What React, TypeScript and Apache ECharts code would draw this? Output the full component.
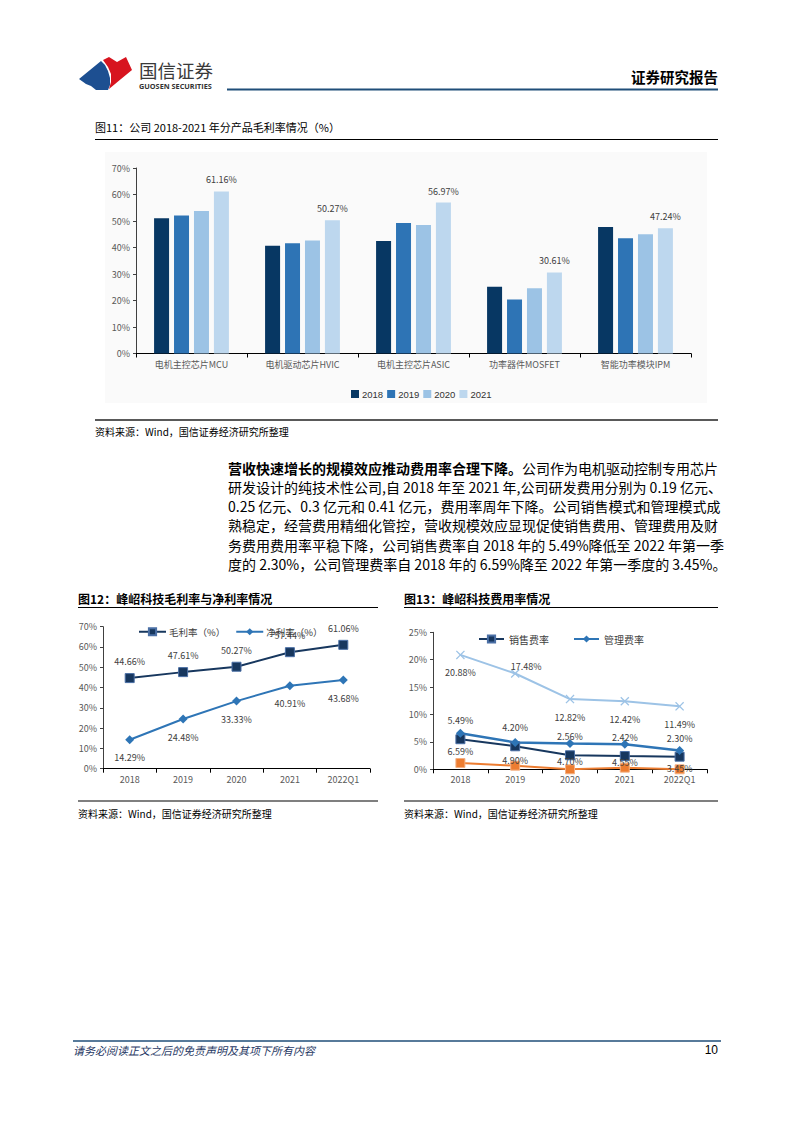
import React, { useEffect, useRef } from 'react';
import * as echarts from 'echarts';

// ---------- Data ----------
const products = ['电机主控芯片MCU', '电机驱动芯片HVIC', '电机主控芯片ASIC', '功率器件MOSFET', '智能功率模块IPM'];
const barYears = ['2018', '2019', '2020', '2021'];
const margin2018 = [51.0, 40.7, 42.5, 25.2, 47.7];
const margin2019 = [52.1, 41.6, 49.2, 20.4, 43.5];
const margin2020 = [53.8, 42.6, 48.5, 24.6, 45.0];
const margin2021 = [61.16, 50.27, 56.97, 30.61, 47.24];

const periods = ['2018', '2019', '2020', '2021', '2022Q1'];
const grossMargin = [44.66, 47.61, 50.27, 57.44, 61.06];
const netMargin = [14.29, 24.48, 33.33, 40.91, 43.68];

const salesRate = [5.49, 4.2, 2.56, 2.42, 2.3];
const adminRate = [6.59, 4.9, 4.7, 4.55, 3.45];
const rdRate = [20.88, 17.48, 12.82, 12.42, 11.49];
const finRate = [1.15, 0.66, 0.0, 0.3, 0.0];
const rdLabelUp = [false, true, false, false, false];

const pctTicks1 = { min: 0, max: 70, interval: 10 };
const pctTicks3 = { min: 0, max: 25, interval: 5 };

const bodyLines = [
  '研发设计的纯技术性公司,自 2018 年至 2021 年,公司研发费用分别为 0.19 亿元、',
  '0.25 亿元、0.3 亿元和 0.41 亿元，费用率周年下降。公司销售模式和管理模式成',
  '熟稳定，经营费用精细化管控，营收规模效应显现促使销售费用、管理费用及财',
  '务费用费用率平稳下降，公司销售费率自 2018 年的 5.49%降低至 2022 年第一季',
  '度的 2.30%，公司管理费率自 2018 年的 6.59%降至 2022 年第一季度的 3.45%。',
];

const FONT = '"Noto Sans CJK SC", "Noto Sans", sans-serif';
const LATIN = '"Liberation Sans", Arial, sans-serif';
const fmt = (v: number) => v.toFixed(2) + '%';

const txt = (text: string, x: number, y: number, size: number, extra: any = {}) => ({
  type: 'text',
  x,
  y,
  silent: true,
  style: {
    text,
    fontSize: size,
    fontFamily: FONT,
    fill: '#000',
    align: 'left',
    verticalAlign: 'middle',
    ...extra,
  },
});
const hline = (x1: number, x2: number, y: number, stroke: string, w: number) => ({
  type: 'line',
  silent: true,
  shape: { x1, y1: y, x2, y2: y },
  style: { stroke, lineWidth: w },
});

function buildOption(): any {
  const axisLabel = { color: '#595959', fontSize: 9, fontFamily: FONT };
  const catAxis = (gridIndex: number, data: string[]) => ({
    type: 'category',
    gridIndex,
    data,
    axisLine: { show: true, lineStyle: { color: '#000', width: 1 } },
    axisTick: { show: true, length: 4, lineStyle: { color: '#000' } },
    axisLabel: { ...axisLabel, margin: 6 },
    splitLine: { show: false },
  });
  const valAxis = (gridIndex: number, ticks: any) => ({
    type: 'value',
    gridIndex,
    ...ticks,
    axisLine: { show: true, lineStyle: { color: '#404040', width: 1 } },
    axisTick: { show: true, length: 3, lineStyle: { color: '#404040' } },
    axisLabel: { ...axisLabel, margin: 6, formatter: '{value}%' },
    splitLine: { show: false },
  });

  const barColors = ['#073763', '#2e74b5', '#9cc3e5', '#bdd7ee'];
  const barData = [margin2018, margin2019, margin2020, margin2021];
  const barSeries = barYears.map((y, i) => ({
    name: y,
    type: 'bar',
    xAxisIndex: 0,
    yAxisIndex: 0,
    data: barData[i],
    barWidth: 15,
    barGap: '33%',
    itemStyle: { color: barColors[i] },
    label:
      i === 3
        ? {
            show: true,
            position: 'top',
            distance: 7,
            fontSize: 9,
            color: '#404040',
            fontFamily: FONT,
            formatter: (p: any) => fmt(p.value),
          }
        : { show: false },
  }));

  const lbl = (position: string, distance = 9) => ({
    show: true,
    position,
    distance,
    fontSize: 9,
    color: '#404040',
    fontFamily: FONT,
    formatter: (p: any) => fmt(typeof p.value === 'number' ? p.value : p.data.value),
  });

  const navy = '#17375e';
  const mid = '#2e75b6';
  const light = '#9dc3e6';
  const orange = '#ed7d31';

  const series2 = [
    {
      name: '毛利率（%）',
      type: 'line',
      xAxisIndex: 1,
      yAxisIndex: 1,
      data: grossMargin,
      symbol: 'rect',
      symbolSize: 9,
      lineStyle: { color: navy, width: 2 },
      itemStyle: { color: navy, borderColor: '#4a6fa5', borderWidth: 1 },
      label: lbl('top', 7),
    },
    {
      name: '净利率（%）',
      type: 'line',
      xAxisIndex: 1,
      yAxisIndex: 1,
      data: netMargin,
      symbol: 'diamond',
      symbolSize: 9,
      lineStyle: { color: mid, width: 2 },
      itemStyle: { color: mid },
      label: lbl('bottom'),
    },
  ];

  const xSymbol = 'path://M1,0 L5,4 L9,0 L10,1 L6,5 L10,9 L9,10 L5,6 L1,10 L0,9 L4,5 L0,1 Z';
  const series3 = [
    {
      name: '研发费率',
      type: 'line',
      xAxisIndex: 2,
      yAxisIndex: 2,
      data: rdRate.map((v, i) => ({
        value: v,
        label: rdLabelUp[i]
          ? { position: 'top', distance: 0, offset: [11, 2] }
          : { position: 'bottom', distance: 9 },
      })),
      symbol: xSymbol,
      symbolSize: 9,
      lineStyle: { color: light, width: 2 },
      itemStyle: { color: light },
      label: lbl('bottom'),
    },
    {
      name: '财务费率',
      type: 'line',
      xAxisIndex: 2,
      yAxisIndex: 2,
      data: finRate,
      symbol: 'rect',
      symbolSize: 9,
      lineStyle: { color: orange, width: 2 },
      itemStyle: { color: orange, borderColor: '#f4b183', borderWidth: 1 },
      label: { show: false },
    },
    {
      name: '销售费率',
      type: 'line',
      xAxisIndex: 2,
      yAxisIndex: 2,
      data: salesRate,
      symbol: 'rect',
      symbolSize: 9,
      lineStyle: { color: navy, width: 2 },
      itemStyle: { color: navy, borderColor: '#4a6fa5', borderWidth: 1 },
      label: lbl('top'),
    },
    {
      name: '管理费率',
      type: 'line',
      xAxisIndex: 2,
      yAxisIndex: 2,
      data: adminRate,
      symbol: 'diamond',
      symbolSize: 9,
      lineStyle: { color: mid, width: 2.5 },
      itemStyle: { color: mid },
      label: lbl('bottom'),
    },
  ];

  // ---- static page graphics ----
  const graphics: any[] = [];
  // logo
  graphics.push({
    type: 'polygon',
    silent: true,
    shape: {
      points: [
        [79, 79], [101, 61], [105, 65], [108, 71], [110, 78], [110, 85], [108, 90], [96, 90], [91, 86], [86, 84],
      ],
    },
    style: { fill: '#1d4f91' },
  });
  graphics.push({
    type: 'polygon',
    silent: true,
    shape: {
      points: [
        [103, 60], [109, 57], [117, 62], [126, 57], [132, 70], [121, 79], [109, 89], [111, 82], [111, 74], [108, 67],
      ],
    },
    style: { fill: '#d7141f' },
  });
  graphics.push(txt('国信证券', 139, 70, 18.5, { fill: '#3a3a3a' }));
  graphics.push(txt('GUOSEN SECURITIES', 139, 86, 7.3, { fill: '#333', fontWeight: 'bold', fontFamily: '"Open Sans", "Noto Sans", sans-serif' }));
  graphics.push(txt('证券研究报告', 718, 76.5, 14.5, { align: 'right', fontWeight: 'bold' }));
  graphics.push(hline(227, 718, 89.5, '#1f4e79', 2));

  // figure 11
  graphics.push(txt('图11：公司 2018-2021 年分产品毛利率情况（%）', 95, 127, 11));
  graphics.push(hline(95, 718, 139.5, '#000', 1.2));
  graphics.push({
    type: 'rect',
    silent: true,
    z: -10,
    shape: { x: 105, y: 152, width: 602, height: 251 },
    style: { fill: '#fafafa' },
  });
  graphics.push(hline(95, 718, 420, '#595959', 2));
  graphics.push(txt('资料来源：Wind，国信证券经济研究所整理', 95, 431.5, 10));

  // paragraph
  graphics.push(txt('营收快速增长的规模效应推动费用率合理下降。', 228, 468, 14, { fontWeight: 'bold' }));
  graphics.push(txt('公司作为电机驱动控制专用芯片', 522, 468, 14));
  bodyLines.forEach((l, i) => graphics.push(txt(l, 228, 487 + i * 19.2, 14)));

  // figure 12 / 13
  graphics.push(txt('图12：峰岹科技毛利率与净利率情况', 78, 598, 12, { fontWeight: 'bold' }));
  graphics.push(hline(78, 378, 607.5, '#000', 1.2));
  graphics.push(txt('图13：峰岹科技费用率情况', 404, 598, 12, { fontWeight: 'bold' }));
  graphics.push(hline(404, 718, 607.5, '#000', 1.2));
  graphics.push(hline(78, 378, 801, '#000', 1.2));
  graphics.push(hline(404, 718, 801, '#000', 1.2));
  graphics.push(txt('资料来源：Wind，国信证券经济研究所整理', 78, 813, 10));
  graphics.push(txt('资料来源：Wind，国信证券经济研究所整理', 404, 813, 10));

  // footer
  graphics.push(hline(73, 721, 1041, '#1f4e79', 1.5));
  graphics.push(txt('请务必阅读正文之后的免责声明及其项下所有内容', 73, 1050, 11, { fill: '#1f3864', fontStyle: 'italic' }));
  graphics.push(txt('10', 718, 1050, 12, { align: 'right', fontFamily: LATIN }));

  return {
    animation: false,
    backgroundColor: '#fff',
    textStyle: { fontFamily: FONT },
    grid: [
      { left: 136, top: 168, width: 555, height: 185.5 },
      { left: 103, top: 626.7, width: 267, height: 142 },
      { left: 433, top: 632.3, width: 274, height: 137 },
    ],
    xAxis: [catAxis(0, products), catAxis(1, periods), catAxis(2, periods)],
    yAxis: [
      valAxis(0, pctTicks1),
      valAxis(1, pctTicks1),
      valAxis(2, pctTicks3),
    ],
    legend: [
      {
        data: barYears,
        left: 346,
        top: 384,
        itemWidth: 8,
        itemHeight: 8,
        itemGap: 4,
        icon: 'rect',
        textStyle: { fontSize: 9.5, color: '#333', fontFamily: LATIN, padding: [0, 0, 0, -2] },
      },
      {
        data: ['毛利率（%）', '净利率（%）'],
        left: 133,
        top: 622,
        itemWidth: 27,
        itemHeight: 9,
        itemGap: 10,
        textStyle: { fontSize: 9.5, color: '#404040', fontFamily: FONT, padding: [0, 0, 0, -2] },
      },
      {
        data: ['销售费率', '管理费率'],
        left: 473,
        top: 629,
        itemWidth: 25,
        itemHeight: 9,
        itemGap: 24,
        textStyle: { fontSize: 10, color: '#404040', fontFamily: FONT },
      },
    ],
    series: [...barSeries, ...series2, ...series3],
    graphic: { elements: graphics },
  };
}

export default function App() {
  const ref = useRef<HTMLDivElement>(null);
  useEffect(() => {
    if (!ref.current) return;
    const chart = echarts.init(ref.current, null, { renderer: 'svg' });
    chart.setOption(buildOption());
    return () => chart.dispose();
  }, []);
  return (
    <div
      ref={ref}
      style={{ position: 'absolute', left: 0, top: 0, width: 794, height: 1123, background: '#fff' }}
    />
  );
}
